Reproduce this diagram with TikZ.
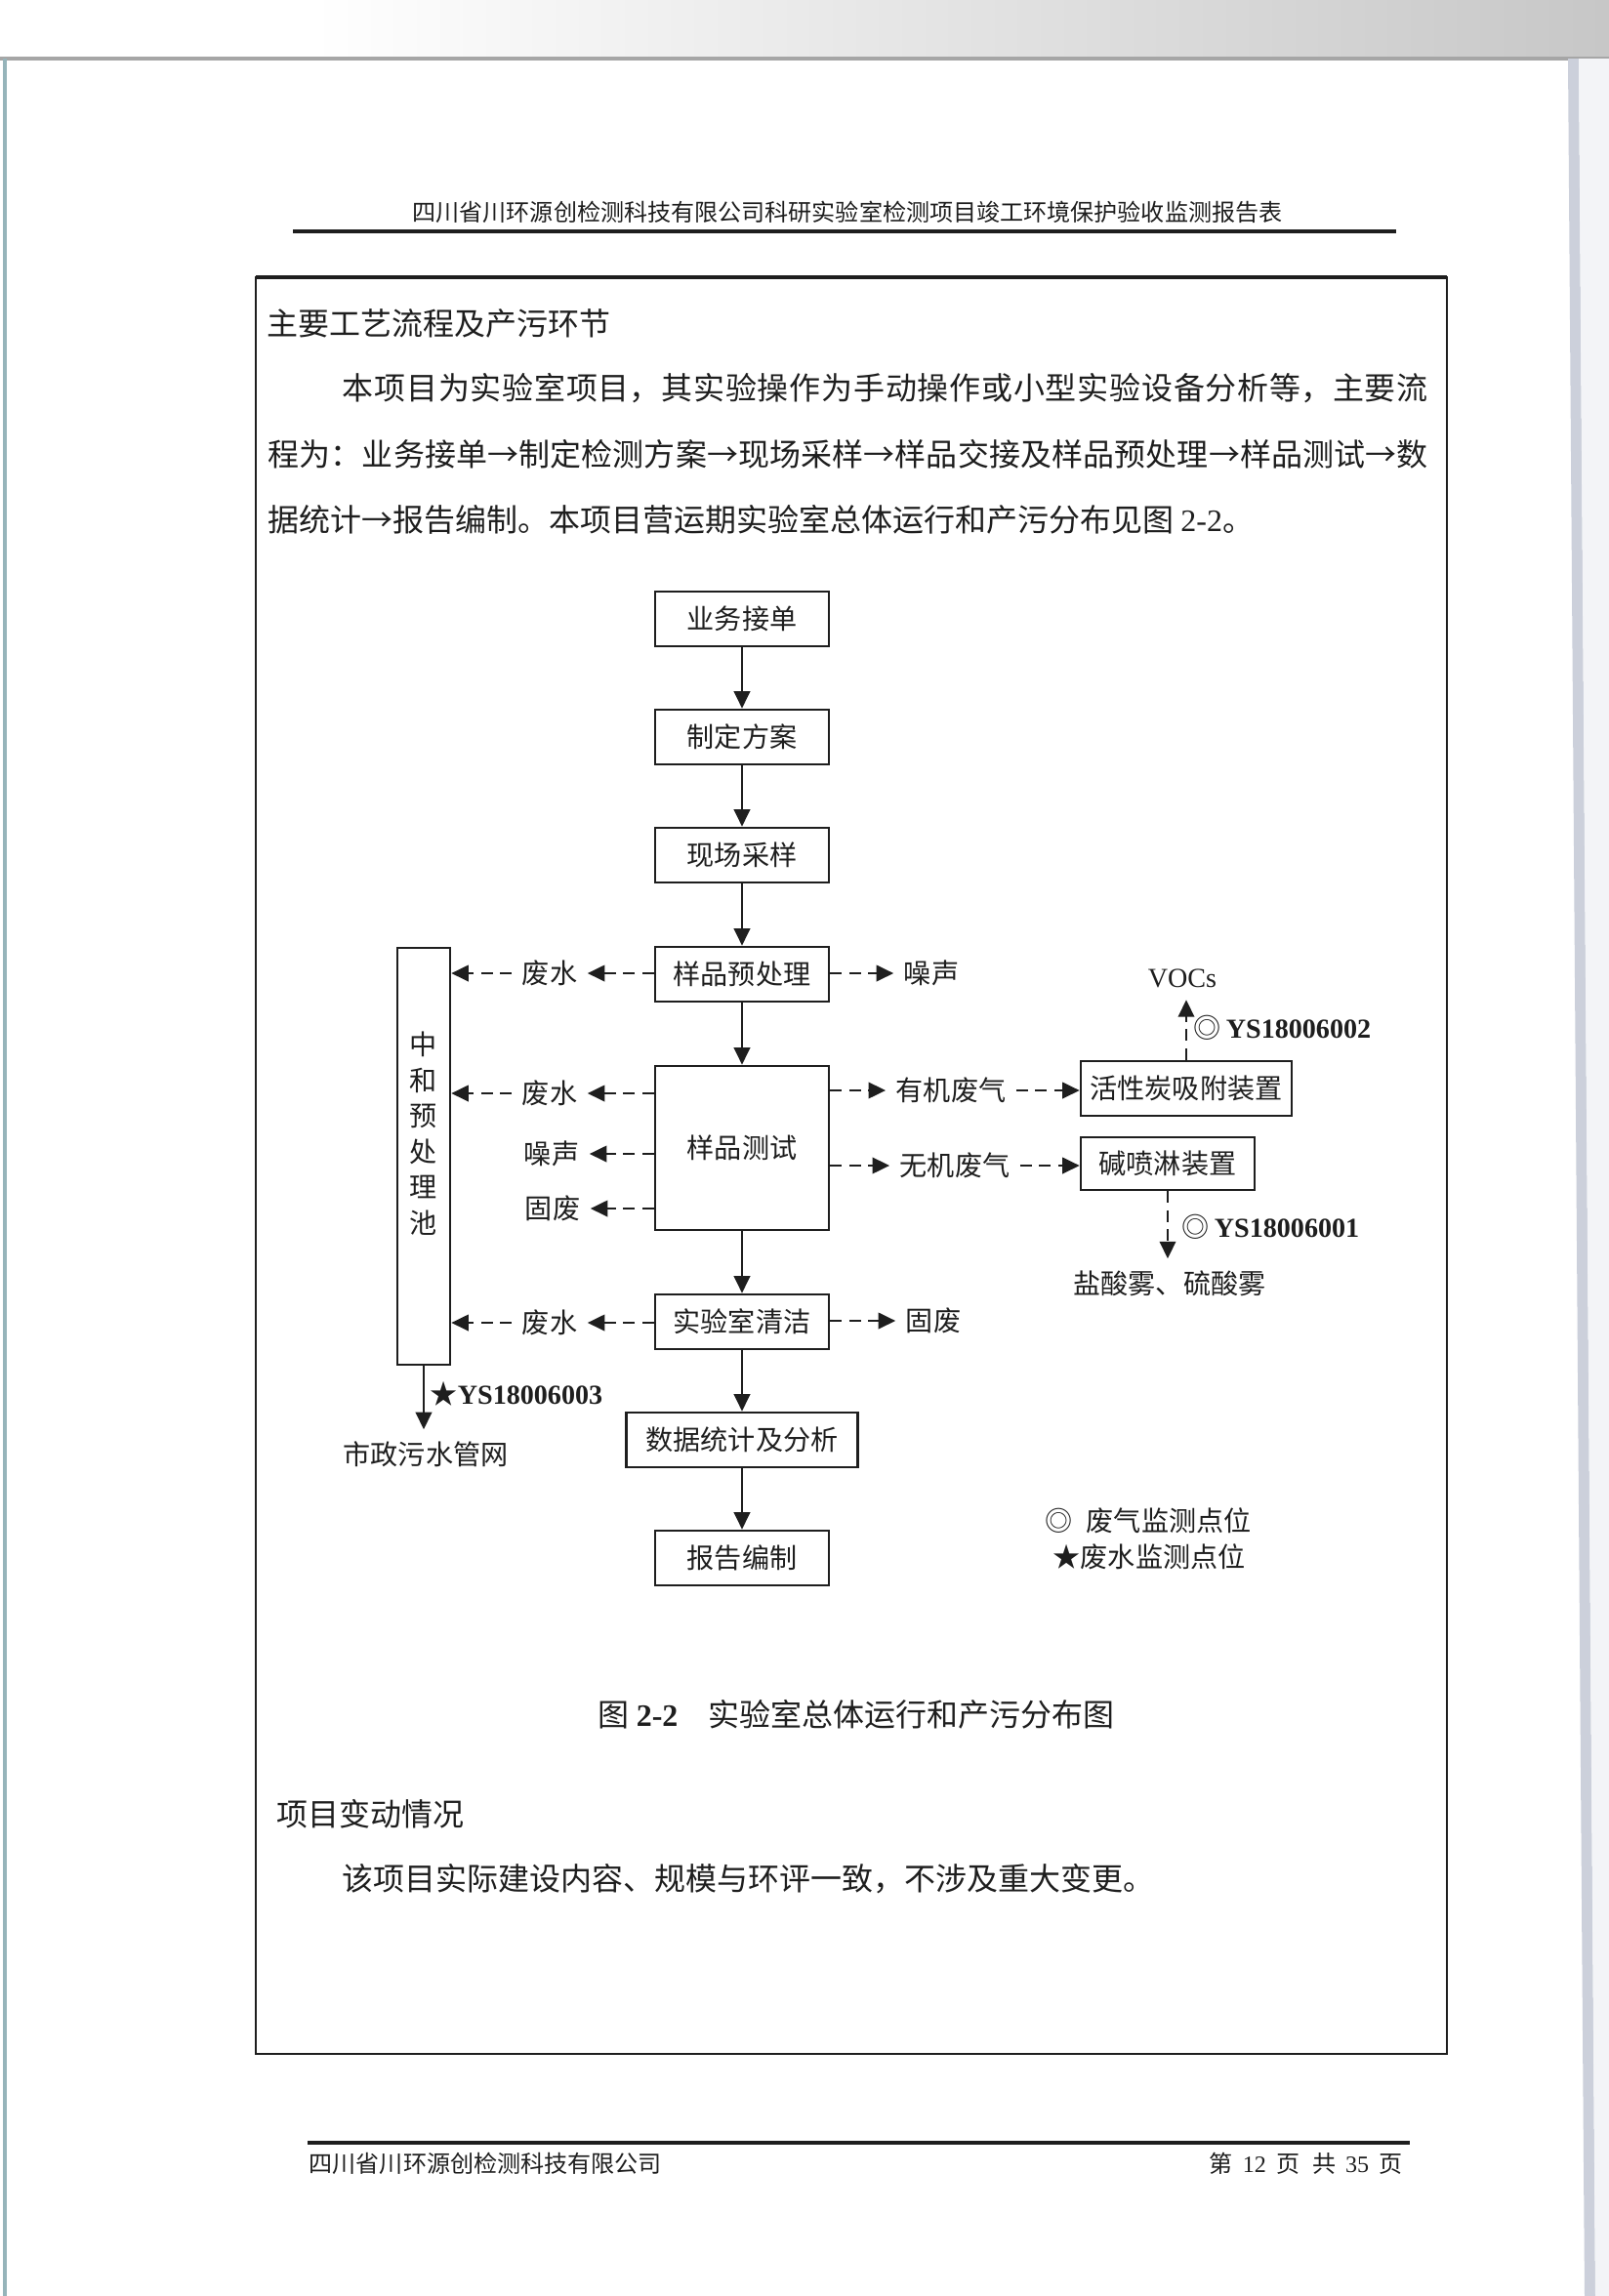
\documentclass[tikz,border=0pt]{standalone}
\usepackage{fontspec}
\setmainfont{Liberation Serif}
\newfontfamily\cjk{Noto Sans CJK SC}
\usetikzlibrary{arrows.meta}

\definecolor{ink}{RGB}{30,30,30}
\definecolor{scanedge}{RGB}{150,180,186}
\definecolor{scanside}{RGB}{176,183,199}

% one justified line of Chinese text
\newcommand\justline[2]{\parbox{#1}{\XeTeXlinebreaklocale "zh"\XeTeXlinebreakskip=0pt plus 1fil minus 0.3pt\parfillskip=0pt\noindent #2}}

\begin{document}
\begin{tikzpicture}[
  font=\cjk\fontsize{8}{9.6}\selectfont,
  box/.style={draw=ink, line width=0.75pt, minimum width=1.78cm, minimum height=0.56cm, inner sep=0pt, text=ink},
  lbl/.style={inner sep=0.1cm, text=ink},
  lat/.style={inner sep=0pt, text=ink, font=\rmfamily\fontsize{8}{9.6}\selectfont},
  endlbl/.style={inner sep=0.12cm, text=ink},
  bodytxt/.style={inner sep=0pt, anchor=west, text=ink, font=\cjk\fontsize{9.1}{11}\selectfont},
  pagetxt/.style={inner sep=0pt, text=ink, font=\cjk\fontsize{6.85}{8}\selectfont},
  arr/.style={-{Triangle[length=1.75mm,width=1.65mm]}, line width=0.6pt, draw=ink},
  dasharr/.style={arr, dash pattern=on 1.2mm off 0.75mm}
]
  \useasboundingbox (0,0) rectangle (16.48,-23.52);
  % scanned page
  \fill[white] (0,0) rectangle (16.48,-23.52);
  \shade[left color=white, right color=black!22] (3.2,0) rectangle (16.48,-0.6);
  \draw[black!35, line width=1pt] (0,-0.6) -- (16.48,-0.6);
  \draw[scanedge, line width=1pt] (0.05,-0.6) -- (0.05,-23.52);
  \fill[scanside!65] (16.06,-0.6) -- (16.17,-0.6) -- (16.34,-23.52) -- (16.23,-23.52) -- cycle;
  \fill[scanside!15] (16.17,-0.6) -- (16.48,-0.6) -- (16.48,-23.52) -- (16.34,-23.52) -- cycle;

  % running head and frame
  \node[pagetxt] (runhead) at (8.68,-2.17) {四川省川环源创检测科技有限公司科研实验室检测项目竣工环境保护验收监测报告表};
  \draw[ink, line width=1pt] (3.00,-2.37) -- (14.30,-2.37);
  \draw[ink, line width=0.8pt] (2.62,-2.84) rectangle (14.82,-21.04);
  \draw[ink, line width=1.4pt] (2.62,-2.84) -- (14.82,-2.84);

  % text above the figure
  \node[bodytxt] (head) at (2.73,-3.31) {主要工艺流程及产污环节};
  \node[bodytxt] (line1) at (3.50,-3.98) {\justline{11.12cm}{本项目为实验室项目，其实验操作为手动操作或小型实验设备分析等，主要流}};
  \node[bodytxt] (line2) at (2.74,-4.65) {\justline{11.88cm}{程为：业务接单→制定检测方案→现场采样→样品交接及样品预处理→样品测试→数}};
  \node[bodytxt] (line3) at (2.74,-5.32) {据统计→报告编制。本项目营运期实验室总体运行和产污分布见图 {\rmfamily 2-2}。};

  % main flow
  \node[box] (order) at (7.60,-6.34) {业务接单};
  \node[box] (plan) at (7.60,-7.55) {制定方案};
  \node[box] (sample) at (7.60,-8.76) {现场采样};
  \node[box] (pre) at (7.60,-9.98) {样品预处理};
  \node[box, minimum height=1.68cm] (test) at (7.60,-11.76) {样品测试};
  \node[box] (clean) at (7.60,-13.54) {实验室清洁};
  \node[box, minimum width=2.37cm] (stats) at (7.60,-14.75) {数据统计及分析};
  \node[box] (report) at (7.60,-15.96) {报告编制};

  \draw[arr] (order.south) -- (plan.north);
  \draw[arr] (plan.south) -- (sample.north);
  \draw[arr] (sample.south) -- (pre.north);
  \draw[arr] (pre.south) -- (test.north);
  \draw[arr] (test.south) -- (clean.north);
  \draw[arr] (clean.south) -- (stats.north);
  \draw[arr] (stats.south) -- (report.north);

  % neutralisation tank
  \node[box, minimum width=0.54cm, minimum height=4.27cm] (pool) at (4.34,-11.845) {};
  \node[text=ink, inner sep=0pt, align=center, font=\cjk\fontsize{8}{10.4}\selectfont] (pooltxt) at (4.34,-11.61) {中\\和\\预\\处\\理\\池};
  \node[endlbl] (sewer) at (4.36,-14.90) {市政污水管网};
  \draw[arr] (pool.south) -- (pool.south |- sewer.north);
  \node[lat, anchor=west, font=\rmfamily\bfseries\fontsize{8}{9.6}\selectfont] (mon3) at (4.40,-14.28) {{\cjk\mdseries ★}YS18006003};

  % outputs on the left
  \node[lbl] (ww1) at (5.63,-9.97) {废水};
  \node[lbl] (ww2) at (5.63,-11.20) {废水};
  \node[lbl] (noise2) at (5.65,-11.82) {噪声};
  \node[lbl] (solid1) at (5.66,-12.38) {固废};
  \node[lbl] (ww3) at (5.63,-13.55) {废水};

  \draw[dasharr] (pre.west |- ww1) -- (ww1.east);
  \draw[dasharr] (ww1.west) -- (ww1.west -| pool.east);
  \draw[dasharr] (test.west |- ww2) -- (ww2.east);
  \draw[dasharr] (ww2.west) -- (ww2.west -| pool.east);
  \draw[dasharr] (test.west |- noise2) -- (noise2.east);
  \draw[dasharr] (test.west |- solid1) -- (solid1.east);
  \draw[dasharr] (clean.west |- ww3) -- (ww3.east);
  \draw[dasharr] (ww3.west) -- (ww3.west -| pool.east);

  % outputs on the right
  \node[lbl] (noise1) at (9.54,-9.97) {噪声};
  \node[lbl] (organic) at (9.74,-11.17) {有机废气};
  \node[lbl] (inorganic) at (9.78,-11.94) {无机废气};
  \node[lbl] (solid2) at (9.56,-13.53) {固废};

  \draw[dasharr] (pre.east |- noise1) -- (noise1.west);
  \draw[dasharr] (test.east |- organic) -- (organic.west);
  \draw[dasharr] (test.east |- inorganic) -- (inorganic.west);
  \draw[dasharr] (clean.east |- solid2) -- (solid2.west);

  % waste gas treatment
  \node[box, minimum width=2.16cm] (carbon) at (12.15,-11.15) {活性炭吸附装置};
  \node[box, minimum height=0.54cm] (caustic) at (11.96,-11.92) {碱喷淋装置};
  \node[endlbl, font=\rmfamily\fontsize{8}{9.6}\selectfont] (vocs) at (12.11,-10.02) {VOCs};
  \node[endlbl] (acid) at (11.98,-13.15) {盐酸雾、硫酸雾};

  \draw[dasharr] (organic.east) -- (organic.east -| carbon.west);
  \draw[dasharr] (inorganic.east) -- (inorganic.east -| caustic.west);
  \draw[dasharr] (carbon.north) -- (carbon.north |- vocs.south);
  \draw[dasharr] (caustic.south) -- (caustic.south |- acid.north);

  \node[lat, anchor=west, font=\rmfamily\bfseries\fontsize{8}{9.6}\selectfont] (mon2) at (12.22,-10.53) {{\cjk\mdseries ◎}\hspace{0.05cm}YS18006002};
  \node[lat, anchor=west, font=\rmfamily\bfseries\fontsize{8}{9.6}\selectfont] (mon1) at (12.10,-12.57) {{\cjk\mdseries ◎}\hspace{0.05cm}YS18006001};

  % legend
  \node[inner sep=0pt, anchor=west, text=ink] (leg1) at (10.70,-15.58) {◎\hspace{0.14cm}废气监测点位};
  \node[inner sep=0pt, anchor=west, text=ink] (leg2) at (10.78,-15.95) {★废水监测点位};

  % caption and text below
  \node[bodytxt] (cap) at (6.12,-17.56) {图 {\rmfamily\bfseries 2-2}\hspace{0.31cm}实验室总体运行和产污分布图};
  \node[bodytxt] (sechead) at (2.83,-18.58) {项目变动情况};
  \node[bodytxt] (line4) at (3.50,-19.25) {该项目实际建设内容、规模与环评一致，不涉及重大变更。};

  % footer
  \draw[ink, line width=0.9pt] (3.15,-21.95) -- (14.44,-21.95);
  \node[pagetxt, anchor=west] (footl) at (3.16,-22.16) {四川省川环源创检测科技有限公司};
  \node[pagetxt, anchor=east] (footr) at (14.37,-22.16) {第\hspace{0.1cm}{\rmfamily 12}\hspace{0.1cm}页\hspace{0.13cm}共\hspace{0.1cm}{\rmfamily 35}\hspace{0.1cm}页};
\end{tikzpicture}
\end{document}
